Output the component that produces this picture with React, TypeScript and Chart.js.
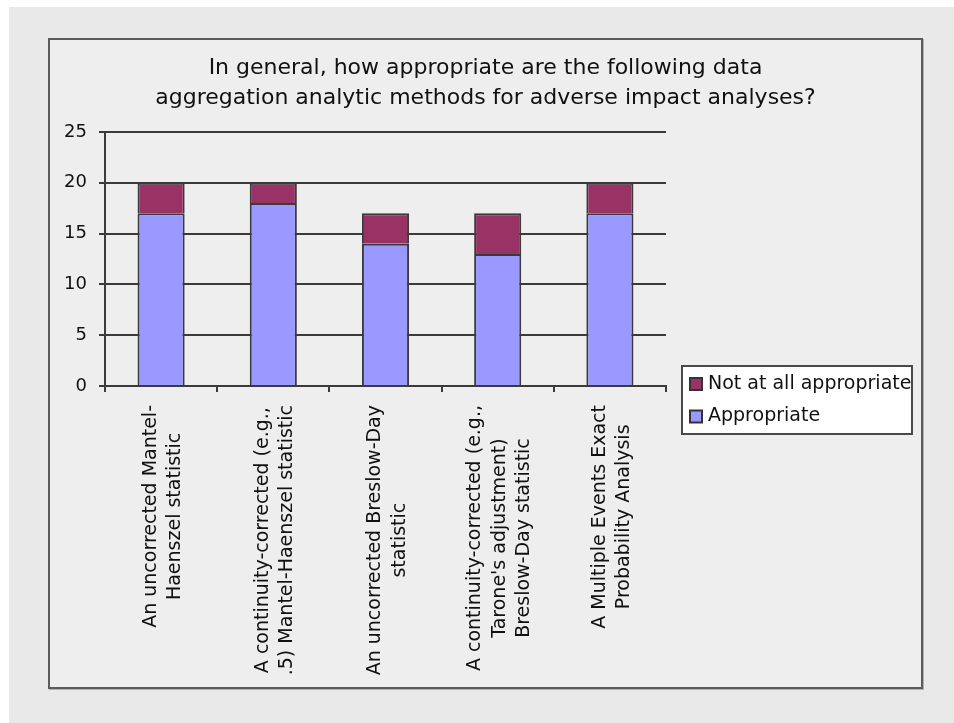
import React, { useEffect, useRef } from "react";
import { Chart, registerables } from "chart.js";

Chart.register(...registerables);

const TITLE_LINES = [
  "In general, how appropriate are the following data",
  "aggregation analytic methods for adverse impact analyses?",
];

const CATEGORIES: string[][] = [
  ["An uncorrected Mantel-", "Haenszel statistic"],
  ["A continuity-corrected (e.g.,", ".5) Mantel-Haenszel statistic"],
  ["An uncorrected Breslow-Day", "statistic"],
  ["A continuity-corrected (e.g.,", "Tarone's adjustment)", "Breslow-Day statistic"],
  ["A Multiple Events Exact", "Probability Analysis"],
];

const APPROPRIATE = [17, 18, 14, 13, 17];
const NOT_AT_ALL = [3, 2, 3, 4, 3];

const Y_MIN = 0;
const Y_MAX = 25;
const Y_STEP = 5;

const FONT = "'DejaVu Sans', Verdana, sans-serif";

const xLabelPlugin = {
  id: "xLabelPlugin",
  afterDraw(chart: any) {
    const scale = chart.scales.x;
    const ctx = chart.ctx;
    const labels = chart.data.labels as string[][];
    const top = scale.top + 19;
    const lh = 24.5;
    ctx.save();
    ctx.font = `19px ${FONT}`;
    ctx.fillStyle = "#111";
    ctx.textAlign = "center";
    ctx.textBaseline = "middle";
    labels.forEach((lines, i) => {
      const x = scale.getPixelForValue(i) + 2;
      const maxW = Math.max(...lines.map((l) => ctx.measureText(l).width));
      ctx.save();
      ctx.translate(x, top);
      ctx.rotate(-Math.PI / 2);
      lines.forEach((line, j) => {
        ctx.fillText(line, -maxW / 2, (j - (lines.length - 1) / 2) * lh);
      });
      ctx.restore();
    });
    ctx.restore();
  },
};

const legendPlugin = {
  id: "boxLegend",
  afterDraw(chart: any) {
    const ctx = chart.ctx;
    const area = chart.chartArea;
    const left = area.right + 16;
    const top = area.bottom - 20;
    const w = 230;
    const h = 68;
    ctx.save();
    ctx.fillStyle = "#ffffff";
    ctx.fillRect(left, top, w, h);
    const ds = [...chart.data.datasets].reverse();
    ctx.font = `19px ${FONT}`;
    ctx.textBaseline = "middle";
    ctx.textAlign = "left";
    ds.forEach((d: any, i: number) => {
      const cy = top + 18 + i * 32.5;
      ctx.fillStyle = d.backgroundColor;
      ctx.fillRect(left + 8, cy - 6, 12, 12);
      ctx.strokeStyle = "#333";
      ctx.lineWidth = 2;
      ctx.strokeRect(left + 8, cy - 6, 12, 12);
      ctx.fillStyle = "#111";
      ctx.fillText(d.label, left + 26, cy);
    });
    ctx.strokeStyle = "#4a4a4a";
    ctx.lineWidth = 2;
    ctx.strokeRect(left, top, w, h);
    ctx.restore();
  },
};

export default function App() {
  const ref = useRef<HTMLCanvasElement | null>(null);

  useEffect(() => {
    if (!ref.current) return;
    const chart = new Chart(ref.current, {
      type: "bar",
      data: {
        labels: CATEGORIES as any,
        datasets: [
          {
            label: "Appropriate",
            data: APPROPRIATE,
            backgroundColor: "#9999ff",
            borderColor: "#3a3a3a",
            borderWidth: 2,
            barPercentage: 0.42,
            categoryPercentage: 1,
          },
          {
            label: "Not at all appropriate",
            data: NOT_AT_ALL,
            backgroundColor: "#993366",
            borderColor: "#3a3a3a",
            borderWidth: 2,
            barPercentage: 0.42,
            categoryPercentage: 1,
          },
        ],
      },
      options: {
        responsive: false,
        animation: false,
        layout: { padding: 0 },
        plugins: {
          legend: { display: false },
          tooltip: { enabled: false },
          title: {
            display: true,
            text: TITLE_LINES,
            color: "#111",
            font: { family: FONT, size: 22, weight: "normal", lineHeight: 30 / 22 },
            padding: { top: 13, bottom: 19 },
          },
        },
        scales: {
          x: {
            stacked: true,
            grid: {
              drawOnChartArea: false,
              drawTicks: true,
              tickLength: 6,
              color: "#3a3a3a",
              lineWidth: 2,
            },
            border: { color: "#3a3a3a", width: 2 },
            ticks: { display: false },
            afterFit: (s: any) => {
              s.height = 301;
            },
          },
          y: {
            stacked: true,
            min: Y_MIN,
            max: Y_MAX,
            ticks: {
              stepSize: Y_STEP,
              color: "#111",
              font: { family: FONT, size: 18 },
              padding: 12,
            },
            grid: { color: "#3a3a3a", lineWidth: 2, tickLength: 6 },
            border: { color: "#3a3a3a", width: 2 },
            afterFit: (s: any) => {
              s.width = 55;
            },
          },
          legendSpace: {
            type: "linear",
            position: "right",
            display: true,
            ticks: { display: false },
            grid: { display: false },
            border: { display: false },
            afterFit: (s: any) => {
              s.width = 255;
            },
          },
        },
      },
      plugins: [xLabelPlugin, legendPlugin],
    });
    return () => chart.destroy();
  }, []);

  return (
    <div
      style={{
        position: "absolute",
        left: 9,
        top: 7,
        width: 945,
        height: 716,
        background: "#e8e9e8",
      }}
    >
      <div
        style={{
          position: "absolute",
          left: 39,
          top: 31,
          width: 875,
          height: 651,
          boxSizing: "border-box",
          border: "2px solid #5b5b5b",
          background: "#eeeeee",
          boxShadow: "1px 1px 0 #b0b0b0",
        }}
      >
        <canvas ref={ref} width={871} height={647} style={{ display: "block" }} />
      </div>
    </div>
  );
}
